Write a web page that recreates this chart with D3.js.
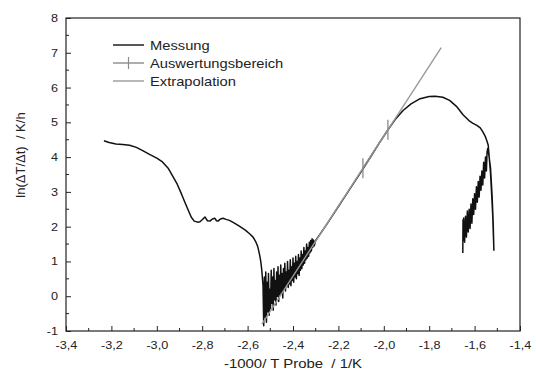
<!DOCTYPE html>
<html>
<head>
<meta charset="utf-8">
<script src="https://cdn.jsdelivr.net/npm/d3@7/dist/d3.min.js"></script>
<style>
  html, body { margin: 0; padding: 0; background: #fff; }
  svg { display: block; font-family: "Liberation Sans", Arial, sans-serif; }
</style>
</head>
<body>
<svg id="chart" width="536" height="372"></svg>
<script>
// Measured curve: ln(ΔT/Δt) against -1000/T (sample)
const messungX = [
  -3.233, -3.21, -3.18, -3.15, -3.12, -3.09, -3.06, -3.03, -3.00, -2.975,
  -2.95, -2.93, -2.91, -2.89, -2.875, -2.86, -2.848, -2.835, -2.82, -2.81,
  -2.80, -2.788, -2.777, -2.766, -2.755, -2.744, -2.737, -2.73, -2.72, -2.708,
  -2.695, -2.68, -2.66, -2.633, -2.61, -2.59, -2.576, -2.565, -2.555, -2.548,
  -2.542, -2.538, -2.535,
  // noisy onset region
  -2.532, -2.529, -2.526, -2.523, -2.520, -2.517, -2.514, -2.511, -2.508, -2.505,
  -2.502, -2.499, -2.496, -2.493, -2.490, -2.487, -2.484, -2.481, -2.478, -2.475,
  -2.472, -2.469, -2.466, -2.463, -2.460, -2.457, -2.454, -2.451, -2.448, -2.445,
  -2.442, -2.439, -2.436, -2.433, -2.430, -2.427, -2.424, -2.421, -2.418, -2.415,
  -2.412, -2.409, -2.406, -2.403, -2.400, -2.397, -2.394, -2.391, -2.388, -2.385,
  -2.382, -2.379, -2.376, -2.373, -2.370, -2.367, -2.364, -2.361, -2.358, -2.355,
  -2.352, -2.349, -2.346, -2.343, -2.340, -2.337, -2.334, -2.331, -2.328, -2.325,
  -2.322, -2.319, -2.316, -2.313, -2.310, -2.306, -2.302,
  // linear rise and maximum
  -2.25, -2.20, -2.15, -2.10, -2.05, -2.02, -1.98, -1.95, -1.915, -1.88,
  -1.84, -1.80, -1.774, -1.74, -1.71, -1.68, -1.651, -1.625, -1.607, -1.59,
  -1.575, -1.563, -1.552, -1.545, -1.540,
  // steep drop at the end of the run
  -1.535, -1.530, -1.525, -1.520, -1.517, -1.515, -1.518, -1.523, -1.530, -1.537, -1.542,
  // noisy tail
  -1.545, -1.548, -1.552, -1.556, -1.560, -1.564, -1.568, -1.572, -1.576, -1.580,
  -1.584, -1.588, -1.592, -1.596, -1.600, -1.604, -1.608, -1.612, -1.616, -1.620,
  -1.624, -1.628, -1.632, -1.636, -1.640, -1.644, -1.648, -1.650, -1.651, -1.652
];
const messungY = [
  4.47, 4.42, 4.38, 4.36, 4.34, 4.28, 4.18, 4.07, 3.97, 3.86,
  3.68, 3.45, 3.22, 2.92, 2.68, 2.45, 2.27, 2.16, 2.13, 2.14,
  2.20, 2.28, 2.17, 2.16, 2.22, 2.24, 2.17, 2.16, 2.22, 2.24,
  2.21, 2.18, 2.11, 2.00, 1.90, 1.79, 1.70, 1.58, 1.42, 1.22,
  1.00, 0.78, 0.55,
  0.30, -0.85, 0.55, -0.60, 0.70, -0.75, 0.40, -0.45, 0.65, -0.55,
  0.20, -0.35, 0.75, -0.20, 0.55, -0.40, 0.80, -0.10, 0.45, -0.25,
  0.70, 0.00, 0.85, -0.15, 0.60, 0.05, 0.90, 0.10, 0.65, -0.05,
  0.80, 0.20, 0.95, 0.15, 0.70, 0.30, 1.00, 0.25, 0.75, 0.35,
  1.05, 0.30, 0.85, 0.45, 1.10, 0.40, 0.95, 0.55, 1.15, 0.50,
  1.00, 0.65, 1.20, 0.60, 1.10, 0.75, 1.30, 0.80, 1.20, 0.90,
  1.40, 0.95, 1.30, 1.05, 1.50, 1.10, 1.40, 1.15, 1.55, 1.25,
  1.60, 1.30, 1.65, 1.40, 1.62, 1.45, 1.58,
  2.08, 2.58, 3.08, 3.58, 4.09, 4.40, 4.80, 5.08, 5.34, 5.53,
  5.68, 5.74, 5.75, 5.72, 5.63, 5.46, 5.22, 5.05, 4.97, 4.91,
  4.84, 4.72, 4.58, 4.45, 4.34,
  3.95, 3.55, 2.95, 2.30, 1.70, 1.32, 2.10, 2.90, 3.70, 4.05, 4.25,
  4.15, 3.60, 4.00, 3.40, 3.85, 3.20, 3.60, 3.05, 3.45, 2.85,
  3.30, 2.70, 3.15, 2.50, 2.95, 2.35, 2.80, 2.10, 2.65, 1.95,
  2.50, 1.85, 2.45, 1.70, 2.30, 1.55, 2.25, 1.60, 2.20, 1.24
];

// Linear fit extended over the whole onset range
const extrapolationX = [-2.537, -1.747];
const extrapolationY = [-0.80, 7.15];

// Fitted interval, marked at both ends
const auswertungX = [-2.092, -1.982];
const auswertungY = [3.68, 4.79];

// Axes
const xTicks = [-3.4, -3.2, -3.0, -2.8, -2.6, -2.4, -2.2, -2.0, -1.8, -1.6, -1.4];
const yTicks = [-1, 0, 1, 2, 3, 4, 5, 6, 7, 8];
const legendLabels = ["Messung", "Auswertungsbereich", "Extrapolation"];

const svg = d3.select("#chart");
const plotLeft = 66, plotRight = 520, plotTop = 18, plotBottom = 331;
const stretch = 1.15; // text is set slightly wide

const x = d3.scaleLinear().domain([-3.4, -1.4]).range([plotLeft, plotRight]);
const y = d3.scaleLinear().domain([-1, 8]).range([plotBottom, plotTop]);

const fmt = v => d3.format(".1f")(v).replace(".", ",").replace("\u2212", "-");

// Frame
svg.append("rect")
  .attr("x", plotLeft).attr("y", plotTop)
  .attr("width", plotRight - plotLeft).attr("height", plotBottom - plotTop)
  .attr("fill", "none").attr("stroke", "#222").attr("stroke-width", 1.2);

// Bottom axis, ticks pointing inward
const xAxis = d3.axisBottom(x).tickValues(xTicks).tickSize(-5).tickPadding(10).tickFormat(fmt);
const gx = svg.append("g").attr("transform", `translate(0,${plotBottom})`).call(xAxis);
gx.select(".domain").remove();
const xMinor = d3.range(-3.3, -1.4, 0.2).map(v => +v.toFixed(1));
gx.selectAll(".minor").data(xMinor).join("line")
  .attr("class", "minor")
  .attr("x1", d => x(d)).attr("x2", d => x(d)).attr("y1", 0).attr("y2", -3)
  .attr("stroke", "#222");

// Left axis
const yAxis = d3.axisLeft(y).tickValues(yTicks).tickSize(-5).tickPadding(7).tickFormat(d => String(d));
const gy = svg.append("g").attr("transform", `translate(${plotLeft},0)`).call(yAxis);
gy.select(".domain").remove();
const yMinor = d3.range(-0.5, 8, 1);
gy.selectAll(".minor").data(yMinor).join("line")
  .attr("class", "minor")
  .attr("x1", 0).attr("x2", 3).attr("y1", d => y(d)).attr("y2", d => y(d))
  .attr("stroke", "#222");

svg.selectAll(".tick line").attr("stroke", "#222");
svg.selectAll(".tick text").attr("font-size", 11).attr("fill", "#222")
  .attr("font-family", "'Liberation Sans', Arial, sans-serif")
  .attr("transform", `scale(${stretch},1)`);

// Axis titles
svg.append("text")
  .attr("transform", `translate(${(plotLeft + plotRight) / 2},368) scale(${stretch},1)`)
  .attr("text-anchor", "middle").attr("font-size", 13).attr("fill", "#222")
  .attr("xml:space", "preserve")
  .text("-1000/ T Probe  / 1/K");

svg.append("text")
  .attr("transform", `translate(25,155) rotate(-90)`)
  .attr("text-anchor", "middle").attr("font-size", 13).attr("fill", "#222")
  .attr("xml:space", "preserve")
  .text("ln(\u0394T/\u0394t)  / K/h");

const line = d3.line().x(d => x(d[0])).y(d => y(d[1]));

// Measured data
svg.append("path")
  .datum(d3.zip(messungX, messungY))
  .attr("d", line)
  .attr("fill", "none").attr("stroke", "#111").attr("stroke-width", 1.5)
  .attr("stroke-linejoin", "round");

// Extrapolation
svg.append("path")
  .datum(d3.zip(extrapolationX, extrapolationY))
  .attr("d", line)
  .attr("fill", "none").attr("stroke", "#9a9a9a").attr("stroke-width", 1.4);

// Evaluation interval
const ausw = d3.zip(auswertungX, auswertungY);
svg.append("path")
  .datum(ausw).attr("d", line)
  .attr("fill", "none").attr("stroke", "#8c8c8c").attr("stroke-width", 1.4);
svg.selectAll(".ausw-mark").data(ausw).join("line")
  .attr("class", "ausw-mark")
  .attr("x1", d => x(d[0])).attr("x2", d => x(d[0]))
  .attr("y1", d => y(d[1]) - 10).attr("y2", d => y(d[1]) + 10)
  .attr("stroke", "#8c8c8c").attr("stroke-width", 1.3);

// Legend
const legend = svg.append("g");
const lx0 = 113, lx1 = 144, ly0 = 45, lstep = 18;
const legendStyles = [
  { stroke: "#111", mark: false },
  { stroke: "#8c8c8c", mark: true },
  { stroke: "#9a9a9a", mark: false }
];
legendLabels.forEach((label, i) => {
  const yy = ly0 + i * lstep;
  legend.append("line")
    .attr("x1", lx0).attr("x2", lx1).attr("y1", yy).attr("y2", yy)
    .attr("stroke", legendStyles[i].stroke).attr("stroke-width", 1.4);
  if (legendStyles[i].mark) {
    legend.append("line")
      .attr("x1", (lx0 + lx1) / 2).attr("x2", (lx0 + lx1) / 2)
      .attr("y1", yy - 6).attr("y2", yy + 6)
      .attr("stroke", legendStyles[i].stroke).attr("stroke-width", 1.2);
  }
  legend.append("text")
    .attr("transform", `translate(150,${yy + 5}) scale(${stretch},1)`)
    .attr("font-size", 12.8).attr("fill", "#222")
    .text(label);
});
</script>
</body>
</html>
